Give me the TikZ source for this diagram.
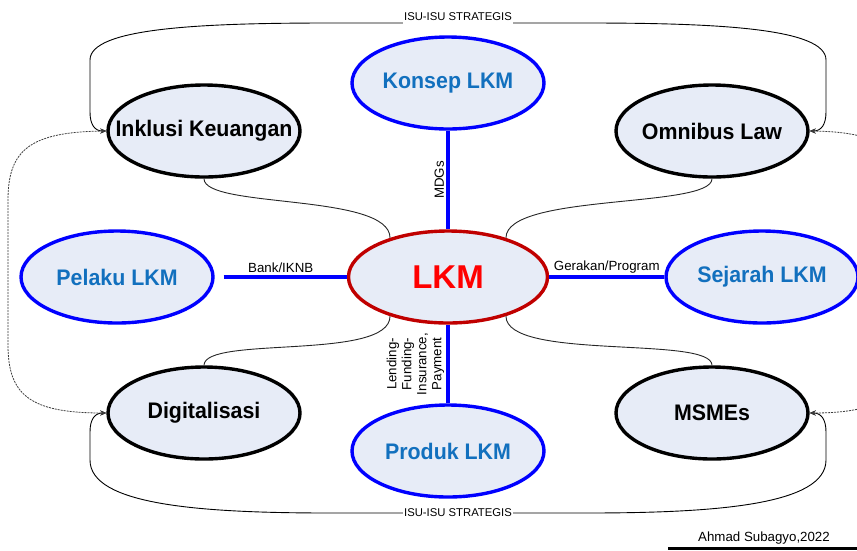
\documentclass[tikz,border=0pt]{standalone}
\usepackage{fontspec}
\usepackage{graphicx}
\setmainfont{Liberation Sans}
\usetikzlibrary{shapes.geometric,arrows.meta}
\definecolor{bubble}{RGB}{231,236,247}
\definecolor{topicblue}{RGB}{18,112,190}
\definecolor{coreborder}{RGB}{192,0,0}
\definecolor{dotgray}{RGB}{60,60,60}
% zero-width, slightly narrowed label so the ellipse keeps its fixed size
\newcommand{\bubbletext}[1]{\makebox[0pt][c]{\scalebox{0.95}[1]{#1}}}
\tikzset{
  bubblebase/.style={ellipse, fill=bubble, line width=3.4pt, inner sep=0pt,
    minimum width=192pt, minimum height=92pt,
    font=\bfseries\fontsize{22.5}{26}\selectfont},
  topic/.style={bubblebase, draw=blue, text=topicblue},
  issue/.style={bubblebase, draw=black, text=black},
  core/.style={bubblebase, draw=coreborder, text=red, minimum width=199pt,
    font=\bfseries\fontsize{33}{36}\selectfont},
  link/.style={draw=blue, line width=3.8pt},
  linklabel/.style={font=\fontsize{13.3}{15}\selectfont, inner sep=2pt},
  tieline/.style={draw=black!85, line width=0.9pt},
  isu/.style={draw=black, line width=0.9pt, {Stealth[length=6pt,width=5pt]}-{Stealth[length=6pt,width=5pt]}},
  isulabel/.style={fill=white, inner xsep=1pt, inner ysep=4pt, font=\fontsize{11.3}{12}\selectfont},
  dotlink/.style={draw=dotgray, line width=0.8pt, dash pattern=on 2pt off 1pt,
    {Stealth[length=6pt,width=5pt]}-{Stealth[length=6pt,width=5pt]}},
}
\begin{document}
\begin{tikzpicture}[x=1pt,y=1pt]
\useasboundingbox (0,0) rectangle (857,-550);

% bubbles
\node[core]  (lkm)     at (448,-277) {\makebox[0pt][c]{LKM}};
\node[topic] (konsep)  at (448,-83)  {\bubbletext{Konsep LKM}};
\node[topic] (pelaku)  at (117,-277) {\bubbletext{Pelaku LKM}};
\node[topic] (sejarah) at (762,-277) {\bubbletext{Sejarah LKM}};
\node[topic] (produk)  at (448,-451) {\bubbletext{Produk LKM}};
\node[issue] (inklusi) at (204,-131) {\bubbletext{Inklusi Keuangan}};
\node[issue] (omnibus) at (712,-131) {\bubbletext{Omnibus Law}};
\node[issue] (digital) at (204,-413) {\bubbletext{Digitalisasi}};
\node[issue] (msme)    at (712,-413) {\bubbletext{MSMEs}};

% spokes from the core
\draw[link] (konsep) -- node[linklabel, rotate=90, anchor=south] {MDGs} (lkm);
\draw[link, shorten <=9pt] (pelaku) -- node[linklabel, anchor=south] {Bank/IKNB} (lkm);
\draw[link] (lkm) -- node[linklabel, anchor=south] {Gerakan/Program} (sejarah);
\draw[link] (produk) -- node[linklabel, rotate=90, anchor=south, align=center]
  {Lending-\\Funding-\\Insurance,\\Payment} (lkm);

% thin ties between issues and the core
\draw[tieline] (inklusi.south) .. controls +(0,-30) and +(0,45) .. (lkm.146);
\draw[tieline] (omnibus.south) .. controls +(0,-30) and +(0,45) .. (lkm.34);
\draw[tieline] (digital.north) .. controls +(0,30) and +(0,-45) .. (lkm.-146);
\draw[tieline] (msme.north) .. controls +(0,30) and +(0,-45) .. (lkm.-34);

% strategic issues loops
\draw[isu] (inklusi.west) .. controls (95,-131) and (90,-125) .. (90,-112)
  -- (90,-60) .. controls (90,-28) and (200,-23) .. (330,-23)
  -- node[isulabel, yshift=6pt] {ISU-ISU STRATEGIS} (586,-23)
  .. controls (716,-23) and (826,-28) .. (826,-60)
  -- (826,-112) .. controls (826,-125) and (821,-131) .. (omnibus.east);
\draw[isu] (digital.west) .. controls (95,-413) and (90,-419) .. (90,-432)
  -- (90,-460) .. controls (90,-505) and (200,-513) .. (330,-513)
  -- node[isulabel] {ISU-ISU STRATEGIS} (586,-513)
  .. controls (716,-513) and (826,-505) .. (826,-460)
  -- (826,-432) .. controls (826,-419) and (821,-413) .. (msme.east);

% dotted side loops
\draw[dotlink] (inklusi.west) .. controls (30,-132) and (8,-150) .. (8,-200)
  -- (8,-345) .. controls (8,-395) and (30,-413) .. (digital.west);
\draw[dotlink] (omnibus.east) .. controls (882,-132) and (904,-150) .. (904,-200)
  -- (904,-345) .. controls (904,-395) and (882,-413) .. (msme.east);

% signature
\node[font=\fontsize{13.3}{15}\selectfont, inner sep=0pt] (sign) at (764,-538) {Ahmad Subagyo,2022};
\draw[line width=2.4pt] (668,-548.5) -- (860,-548.5);
\end{tikzpicture}
\end{document}
